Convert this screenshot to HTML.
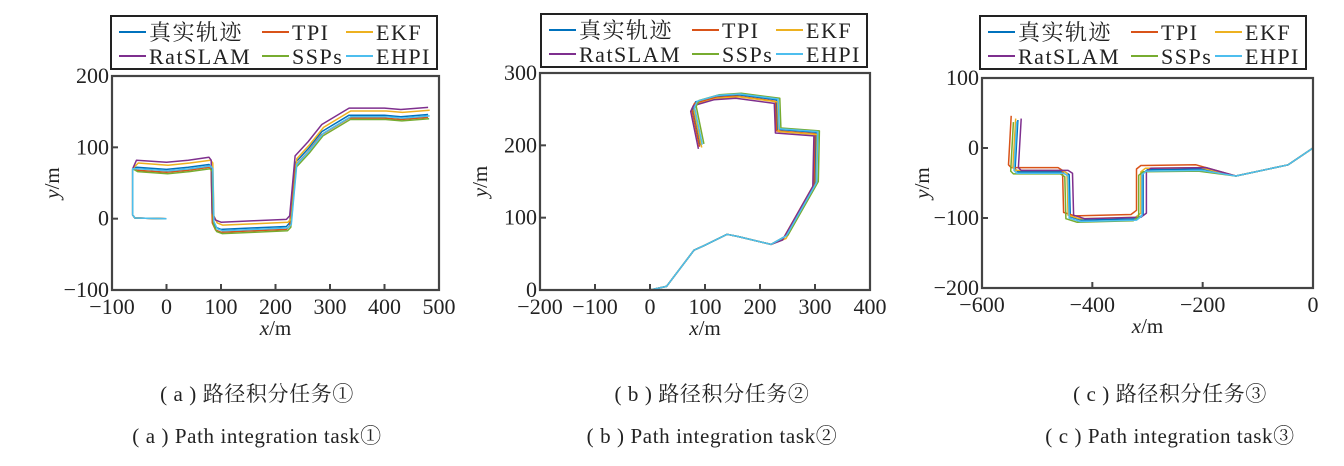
<!DOCTYPE html>
<html><head><meta charset="utf-8"><style>
body{margin:0;background:#fff;}
svg{display:block;font-family:"Liberation Serif","Noto Serif CJK SC",serif;}
</style></head><body>
<svg id="s" width="1344" height="466" viewBox="0 0 1344 466" xmlns="http://www.w3.org/2000/svg">
<g id="g"></g>
<g font-size="21" text-anchor="middle" fill="#222" letter-spacing="0.6">
<text x="257" y="401">( a ) 路径积分任务①</text>
<text x="712" y="401">( b ) 路径积分任务②</text>
<text x="1170" y="401">( c ) 路径积分任务③</text>
<text x="257" y="443">( a ) Path  integration  task①</text>
<text x="712" y="443">( b ) Path  integration  task②</text>
<text x="1170" y="443">( c ) Path  integration  task③</text>
</g>
</svg>
<script>
const C=['#0072BD','#D95319','#EDB120','#7E2F8E','#77AC30','#4DBEEE'];
const NS='http://www.w3.org/2000/svg';
const g=document.getElementById('g');
function el(t,a,txt){const e=document.createElementNS(NS,t);for(const k in a)e.setAttribute(k,a[k]);if(txt!=null)e.textContent=txt;g.appendChild(e);return e;}
function panel(P){
 const sx=v=>P.L+(v-P.x0)/(P.x1-P.x0)*(P.R-P.L);
 const sy=v=>P.B-(v-P.y0)/(P.y1-P.y0)*(P.B-P.T);
 P.off.forEach((o,i)=>{
  let d=P.pts.map((p,j)=>{let dx=o[0],dy=o[1];if(o[2]&&j<o[2])dx=0,dy=0;return (j?'L':'M')+sx(p[0]+dx).toFixed(1)+','+sy(p[1]+dy).toFixed(1)}).join('');
  el('path',{d:d,fill:'none',stroke:C[i],'stroke-width':1.5,'stroke-linejoin':'round'});
 });
 el('rect',{x:P.L,y:P.T,width:P.R-P.L,height:P.B-P.T,fill:'none',stroke:'#444','stroke-width':2.2});
 P.xt.forEach(v=>{const x=sx(v);el('line',{x1:x,x2:x,y1:P.B,y2:P.B-6,stroke:'#444','stroke-width':2});
  el('text',{x:x,y:P.B+24,'font-size':22,'text-anchor':'middle',fill:'#222'},(v<0?'−':'')+Math.abs(v));});
 P.yt.forEach(v=>{const y=sy(v);el('line',{x1:P.L,x2:P.L+6,y1:y,y2:y,stroke:'#444','stroke-width':2});
  el('text',{x:P.L-3,y:y+7,'font-size':22,'text-anchor':'end',fill:'#222'},(v<0?'−':'')+Math.abs(v));});
 const xm=(P.L+P.R)/2;
 const t=el('text',{x:xm,y:P.B+45,'font-size':21,'text-anchor':'middle',fill:'#222'});
 t.innerHTML='<tspan font-style="italic">x</tspan>/m';
 const ym=(P.T+P.B)/2, yx=P.L-53;
 const t2=el('text',{x:yx,y:ym,'font-size':21,'text-anchor':'middle',fill:'#222',transform:`rotate(-90 ${yx} ${ym})`});
 t2.innerHTML='<tspan font-style="italic">y</tspan>/m';
 const lx=P.lx,ly=P.ly;
 el('rect',{x:lx,y:ly,width:326,height:53,fill:'#fff',stroke:'#222','stroke-width':2});
 const names=['真实轨迹','TPI','EKF','RatSLAM','SSPs','EHPI'];
 const cols=[8,151,235];
 names.forEach((n,i)=>{const c=i%3,r=Math.floor(i/3);const x=lx+cols[c],y=ly+16+r*24;
  el('line',{x1:x,x2:x+27,y1:y,y2:y,stroke:C[i],'stroke-width':2});
  el('text',{x:x+30,y:y+8,'font-size':22,fill:'#222','letter-spacing':'1.5'},n);});
}
panel({L:112,R:439,T:76,B:290,x0:-100,x1:500,y0:-100,y1:200,lx:111,ly:16,
 xt:[-100,0,100,200,300,400,500],yt:[-100,0,100,200],
 pts:[[0,0],[-58,1],[-62,5],[-62,70],[-55,72],[0,69],[40,72],[78,76],[82,72],[84,-2],[90,-12],[100,-15],[160,-13],[220,-11],[226,-6],[236,78],[260,98],[285,122],[335,145],[400,145],[430,143],[480,146]],
 off:[[0,0],[0,-4,4],[3,6,4],[0,10,4],[2,-6,4],[3,-2,4]]});
panel({L:540,R:870,T:73,B:290,x0:-200,x1:400,y0:0,y1:300,lx:541,ly:14,
 xt:[-200,-100,0,100,200,300,400],yt:[0,100,200,300],
 pts:[[0,0],[30,5],[50,25],[80,55],[100,62],[140,77],[160,74],[220,63],[245,74],[300,148],[302,218],[232,222],[230,263],[160,270],[120,268],[83,260],[78,252],[92,200]],
 off:[[0,0],[-2,-2,8],[2,-3,8],[-4,-5,8],[6,2,8],[3,1,8]]});
panel({L:982,R:1313,T:78,B:288,x0:-600,x1:0,y0:-200,y1:100,lx:980,ly:16,
 xt:[-600,-400,-200,0],yt:[-200,-100,0,100],
 pts:[[0,0],[-45,-24],[-140,-40],[-200,-30],[-300,-31],[-308,-36],[-308,-95],[-318,-101],[-420,-103],[-440,-98],[-442,-38],[-450,-34],[-535,-34],[-540,-30],[-535,40]],
 off:[[0,0],[-12,6,3],[-4,2,3],[6,2,3],[-8,-3,3],[-2,-2,3]]});
</script>
</body></html>
